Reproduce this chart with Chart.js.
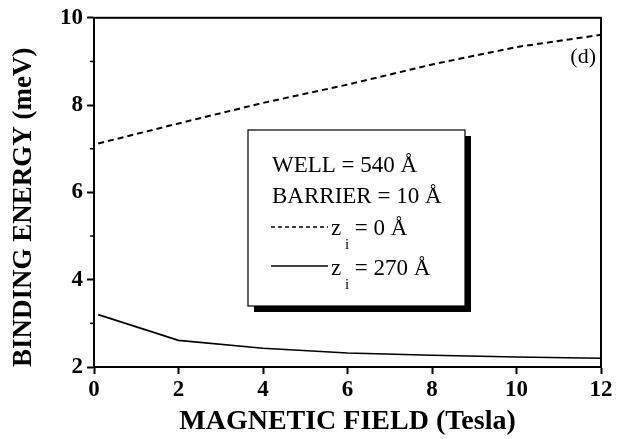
<!DOCTYPE html>
<html lang="en">
<head>
<meta charset="UTF-8">
<title>Binding Energy vs Magnetic Field</title>
<style>
    html, body { margin: 0; padding: 0; background: #fff; }
    #wrap { width: 628px; height: 439px; position: relative; }
</style>
</head>
<body>
<div id="wrap"><canvas id="chart"></canvas></div>

<script src="https://cdn.jsdelivr.net/npm/chart.js"></script>
<script>
    // values
    const fieldTesla = [0.1, 2, 4, 6, 8, 10, 12];
    const energyZ0 = [7.12, 7.58, 8.05, 8.47, 8.93, 9.33, 9.61];    // z_i = 0 A (dashed)
    const energyZ270 = [3.2, 2.61, 2.43, 2.32, 2.27, 2.23, 2.2];    // z_i = 270 A (solid)
    const xTickValues = [0, 2, 4, 6, 8, 10, 12];
    const yTickValues = [2, 4, 6, 8, 10];
    const yMinorValues = [3, 5, 7, 9];
    const boxLines = ['WELL = 540 Å', 'BARRIER = 10 Å'];
    const seriesNames = [' = 0 Å', ' = 270 Å'];
    const panelTag = '(d)';

    const serif = "'Liberation Serif', 'Times New Roman', serif";

    const toPoints = (xs, ys) => xs.map((x, i) => ({ x: x, y: ys[i] }));

    // frame, minor ticks, inset box and panel tag
    const decorations = {
        id: 'decorations',
        afterDraw(chart) {
            const ctx = chart.ctx;
            const area = chart.chartArea;
            const yScale = chart.scales.y;
            ctx.save();

            // frame round the plot
            ctx.strokeStyle = '#000';
            ctx.lineWidth = 2;
            ctx.strokeRect(area.left, area.top, area.right - area.left, area.bottom - area.top);

            // minor ticks on the y axis
            ctx.lineWidth = 1.5;
            yMinorValues.forEach(v => {
                const py = yScale.getPixelForValue(v);
                ctx.beginPath();
                ctx.moveTo(area.left - 4, py);
                ctx.lineTo(area.left, py);
                ctx.stroke();
            });

            // inset box with shadow
            const bx = 248, by = 130, bw = 217, bh = 176;
            ctx.fillStyle = '#000';
            ctx.fillRect(bx + 6, by + 6, bw, bh);
            ctx.fillStyle = '#fff';
            ctx.fillRect(bx, by, bw, bh);
            ctx.lineWidth = 1.2;
            ctx.strokeRect(bx, by, bw, bh);

            ctx.fillStyle = '#000';
            ctx.textAlign = 'left';
            ctx.textBaseline = 'alphabetic';
            ctx.font = '23px ' + serif;
            ctx.fillText(boxLines[0], 272, 172);
            ctx.fillText(boxLines[1], 272, 203);

            const rows = [
                { y: 235, lineY: 227, dash: [4, 3] },
                { y: 275, lineY: 266, dash: [] }
            ];
            rows.forEach((r, i) => {
                ctx.setLineDash(r.dash);
                ctx.lineWidth = 1.5;
                ctx.beginPath();
                ctx.moveTo(271, r.lineY);
                ctx.lineTo(328, r.lineY);
                ctx.stroke();
                ctx.setLineDash([]);
                ctx.font = '23px ' + serif;
                ctx.fillText('z', 331, r.y);
                ctx.font = '15px ' + serif;
                ctx.fillText('i', 345, r.y + 14);
                ctx.font = '23px ' + serif;
                ctx.fillText(seriesNames[i], 349, r.y);
            });

            // panel tag
            ctx.font = '22px ' + serif;
            ctx.textAlign = 'right';
            ctx.fillText(panelTag, 596, 63);

            ctx.restore();
        }
    };

    const ctx = document.getElementById('chart').getContext('2d');
    new Chart(ctx, {
        type: 'line',
        data: {
            datasets: [
                {
                    label: 'z_i = 0 Å',
                    data: toPoints(fieldTesla, energyZ0),
                    borderColor: '#000',
                    borderWidth: 2,
                    borderDash: [6, 4],
                    pointRadius: 0,
                    tension: 0,
                    fill: false
                },
                {
                    label: 'z_i = 270 Å',
                    data: toPoints(fieldTesla, energyZ270),
                    borderColor: '#000',
                    borderWidth: 1.6,
                    pointRadius: 0,
                    tension: 0,
                    fill: false
                }
            ]
        },
        options: {
            responsive: true,
            maintainAspectRatio: false,
            animation: false,
            layout: { padding: { top: 15, right: 27, bottom: 0, left: 0 } },
            plugins: {
                legend: { display: false },
                tooltip: { enabled: false }
            },
            scales: {
                x: {
                    type: 'linear',
                    min: 0,
                    max: 12,
                    afterBuildTicks: scale => { scale.ticks = xTickValues.map(v => ({ value: v })); },
                    afterFit: scale => { scale.height = 72; },
                    grid: {
                        drawOnChartArea: false,
                        tickLength: 7,
                        tickWidth: 2,
                        tickColor: '#000'
                    },
                    border: { color: '#000', width: 2 },
                    ticks: {
                        color: '#000',
                        padding: 2,
                        maxRotation: 0,
                        font: { family: serif, size: 23, weight: 'bold' }
                    },
                    title: {
                        display: true,
                        text: 'MAGNETIC FIELD (Tesla)',
                        color: '#000',
                        padding: { top: 0, bottom: 0 },
                        font: { family: serif, size: 28, weight: 'bold' }
                    }
                },
                y: {
                    min: 2,
                    max: 10,
                    afterBuildTicks: scale => { scale.ticks = yTickValues.map(v => ({ value: v })); },
                    afterFit: scale => { scale.width = 94; },
                    grid: {
                        drawOnChartArea: false,
                        tickLength: 7,
                        tickWidth: 2,
                        tickColor: '#000'
                    },
                    border: { color: '#000', width: 2 },
                    ticks: {
                        color: '#000',
                        padding: 4,
                        font: { family: serif, size: 23, weight: 'bold' }
                    },
                    title: {
                        display: true,
                        text: 'BINDING ENERGY (meV)',
                        align: 'start',
                        color: '#000',
                        padding: { top: 8, bottom: 0 },
                        font: { family: serif, size: 27, weight: 'bold' }
                    }
                }
            }
        },
        plugins: [decorations]
    });
</script>
</body>
</html>
